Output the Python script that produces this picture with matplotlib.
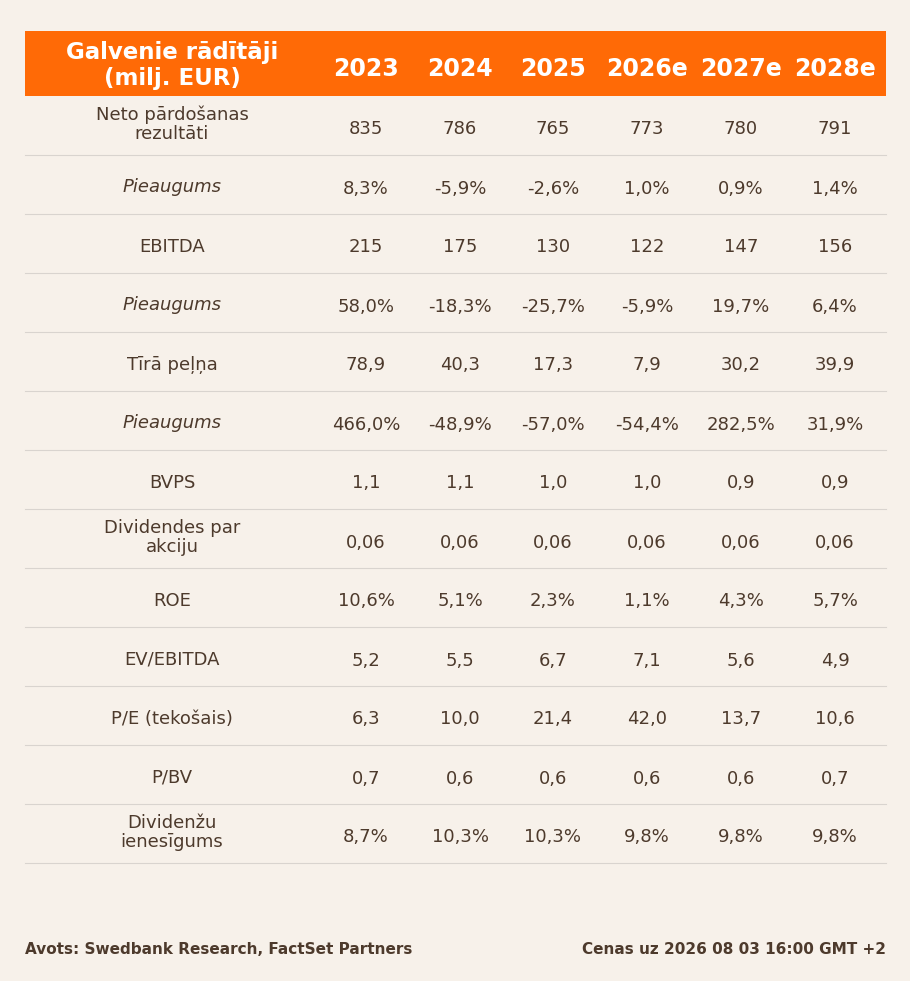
import matplotlib.pyplot as plt

# table data
years = ['2023', '2024', '2025', '2026e', '2027e', '2028e']
row_labels = ['Neto pārdošanas\nrezultāti', 'Pieaugums', 'EBITDA', 'Pieaugums',
              'Tīrā peļņa', 'Pieaugums', 'BVPS', 'Dividendes par\nakciju', 'ROE',
              'EV/EBITDA', 'P/E (tekošais)', 'P/BV', 'Dividenžu\nienesīgums']
italic_rows = [1, 3, 5]
values = [
    ['835', '786', '765', '773', '780', '791'],
    ['8,3%', '-5,9%', '-2,6%', '1,0%', '0,9%', '1,4%'],
    ['215', '175', '130', '122', '147', '156'],
    ['58,0%', '-18,3%', '-25,7%', '-5,9%', '19,7%', '6,4%'],
    ['78,9', '40,3', '17,3', '7,9', '30,2', '39,9'],
    ['466,0%', '-48,9%', '-57,0%', '-54,4%', '282,5%', '31,9%'],
    ['1,1', '1,1', '1,0', '1,0', '0,9', '0,9'],
    ['0,06', '0,06', '0,06', '0,06', '0,06', '0,06'],
    ['10,6%', '5,1%', '2,3%', '1,1%', '4,3%', '5,7%'],
    ['5,2', '5,5', '6,7', '7,1', '5,6', '4,9'],
    ['6,3', '10,0', '21,4', '42,0', '13,7', '10,6'],
    ['0,7', '0,6', '0,6', '0,6', '0,6', '0,7'],
    ['8,7%', '10,3%', '10,3%', '9,8%', '9,8%', '9,8%'],
]
title = 'Galvenie rādītāji\n(milj. EUR)'
source = 'Avots: Swedbank Research, FactSet Partners'
stamp = 'Cenas uz 2026 08 03 16:00 GMT +2'

bg = '#f7f1ea'
orange = '#ff6a06'
txt = '#4d3a2c'

fig = plt.figure(figsize=(9.1, 9.81), dpi=100, facecolor=bg)
ax = fig.add_axes([0, 0, 1, 1])
ax.set_xlim(0, 910)
ax.set_ylim(981, 0)
ax.axis('off')
ax.set_facecolor(bg)

left, right = 25, 886
top, head_h, row_h = 31, 65, 59
label_x = 172
col_x = [366, 460, 553, 647, 741, 835]

ax.add_patch(plt.Rectangle((left, top), right - left, head_h, color=orange, lw=0))
ax.text(label_x, top + head_h / 2 + 2, title, ha='center', va='center', color='white',
        fontsize=16.5, fontweight='bold', linespacing=1.15)
for x, y in zip(col_x, years):
    ax.text(x, top + head_h / 2 + 6, y, ha='center', va='center', color='white',
            fontsize=17, fontweight='bold')

y0 = top + head_h
for i, (lab, vals) in enumerate(zip(row_labels, values)):
    yc = y0 + i * row_h + row_h / 2
    dy = -1 if '\n' in lab else 3
    ax.text(label_x, yc + dy, lab, ha='center', va='center', color=txt, fontsize=13,
            style='italic' if i in italic_rows else 'normal', linespacing=1.05)
    for x, v in zip(col_x, vals):
        ax.text(x, yc + 4, v, ha='center', va='center', color=txt, fontsize=13)
    ax.plot([left, right], [y0 + (i + 1) * row_h] * 2, color='#d9d4cf', lw=0.8)

ax.text(left, 950, source, ha='left', va='center', color=txt, fontsize=11, fontweight='bold')
ax.text(right, 950, stamp, ha='right', va='center', color=txt, fontsize=11, fontweight='bold')

fig.savefig('out.png', dpi=100, facecolor=bg)
